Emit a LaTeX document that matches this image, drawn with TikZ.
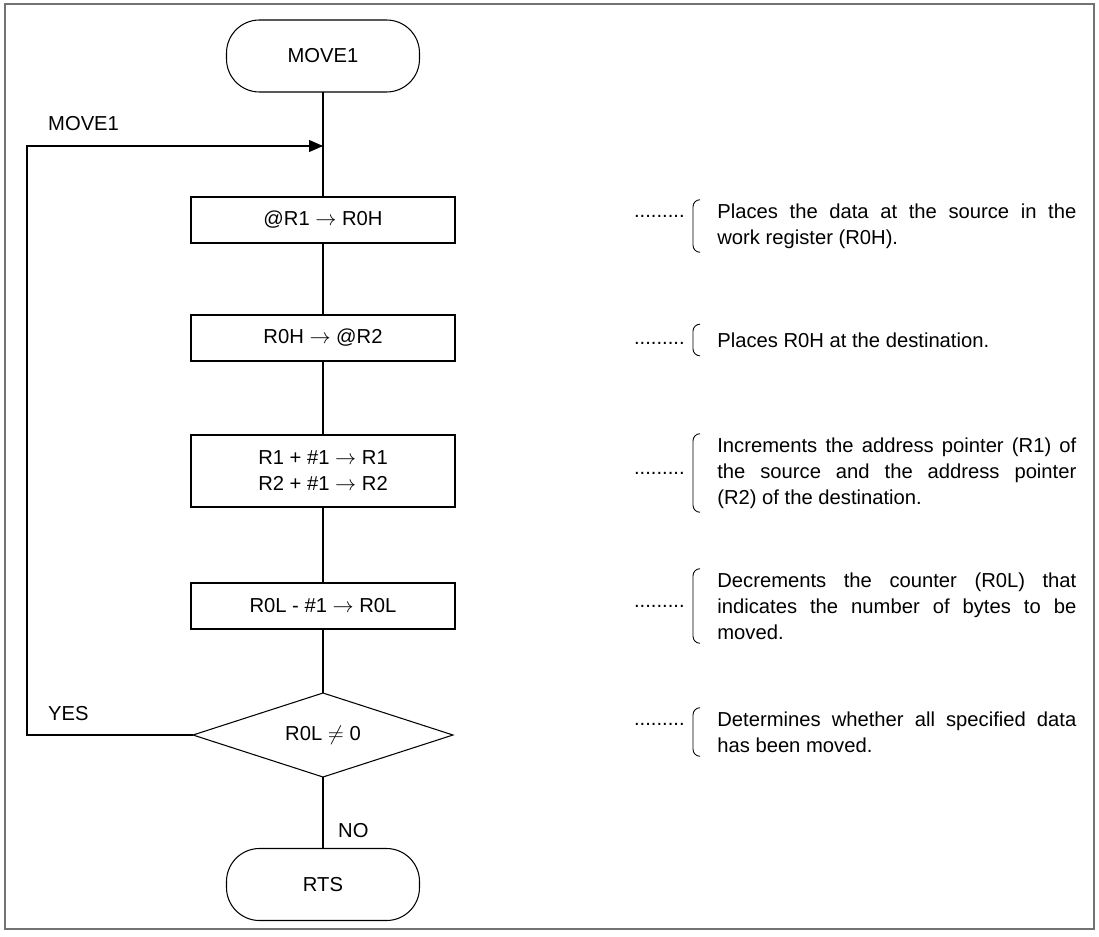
\documentclass[tikz,border=0pt]{standalone}
\usepackage{fontspec}
\setmainfont{Liberation Sans}
\usetikzlibrary{arrows.meta,shapes.geometric,positioning}

\begin{document}
\begin{tikzpicture}[font=\fontsize{11.5}{14.8}\selectfont,
    >={Triangle[length=0.28cm,width=0.24cm]},x=1cm,y=1cm]
    \tikzset{
        terminal/.style={
            draw,rounded corners=0.66cm,
            minimum width=3.86cm,minimum height=1.44cm,
            inner sep=2pt,outer sep=0pt,align=center,line width=0.6pt
        },
        process/.style={
            draw,minimum width=5.28cm,minimum height=0.92cm,
            inner sep=2pt,outer sep=0pt,align=center,line width=0.6pt
        },
        decision/.style={
            draw,diamond,shape aspect=3.1,
            minimum width=5.20cm,minimum height=1.68cm,
            inner sep=1pt,outer sep=0pt,line width=0.6pt
        },
        note/.style={
            text width=7.18cm,minimum height=0.62cm,align=justify,
            inner xsep=0pt,inner ysep=2pt,anchor=west
        },
        leader/.style={inner sep=0pt,anchor=east},
        paren/.style={rounded corners=0.14cm,line width=0.5pt},
        flow/.style={line width=0.6pt},
        outline/.style={draw=black!55,line width=1.2pt}
    }

    \useasboundingbox (0,0) rectangle (21.98,18.72);
    \draw[outline] (0.10,18.64) rectangle (21.88,0.14);

    \node[terminal] (move1) at (6.46,17.60) {MOVE1};
    \node[process] (step1) at (6.46,14.32) {@R1 $\rightarrow$ R0H};
    \node[process] (step2) at (6.46,11.96) {R0H $\rightarrow$ @R2};
    \node[process,minimum height=1.44cm] (step3) at (6.46,9.30)
        {R1 + \#1 $\rightarrow$ R1\\R2 + \#1 $\rightarrow$ R2};
    \node[process] (step4) at (6.46,6.60) {R0L - \#1 $\rightarrow$ R0L};
    \node[decision] (test) at (6.46,4.02) {R0L $\neq$ 0};
    \node[terminal] (rts) at (6.46,1.03) {RTS};

    \coordinate (join) at (6.46,15.80);
    \coordinate (back) at (0.54,15.80);

    \node[anchor=west] (loop-label) at (0.84,16.24) {MOVE1};
    \node[anchor=west] (yes-label) at (0.84,4.44) {YES};
    \node[anchor=west] (no-label) at (6.64,2.10) {NO};

    \draw[flow] (move1.south) -- (step1.north);
    \draw[flow] (step1.south) -- (step2.north);
    \draw[flow] (step2.south) -- (step3.north);
    \draw[flow] (step3.south) -- (step4.north);
    \draw[flow] (step4.south) -- (test.north);
    \draw[flow] (test.south) -- (rts.north);
    \draw[flow,->] (test.west) -| (back) -- (join);

    \node[note] (n1) at (14.34,14.20)
        {Places the data at the source in the\linebreak
         work register (R0H).};
    \node[note] (n2) at (14.34,11.92)
        {Places R0H at the destination.};
    \node[note] (n3) at (14.34,9.26)
        {Increments the address pointer (R1) of\linebreak
         the source and the address pointer\linebreak
         (R2) of the destination.};
    \node[note] (n4) at (14.34,6.60)
        {Decrements the counter (R0L) that\linebreak
         indicates the number of bytes to be\linebreak
         moved.};
    \node[note] (n5) at (14.34,4.08)
        {Determines whether all specified data\linebreak
         has been moved.};

    \draw[paren] ([xshift=-0.34cm]n1.north west) -| ([xshift=-0.48cm]n1.south west)
        -- ([xshift=-0.34cm]n1.south west);
    \draw[paren] ([xshift=-0.34cm]n2.north west) -| ([xshift=-0.48cm]n2.south west)
        -- ([xshift=-0.34cm]n2.south west);
    \draw[paren] ([xshift=-0.34cm]n3.north west) -| ([xshift=-0.48cm]n3.south west)
        -- ([xshift=-0.34cm]n3.south west);
    \draw[paren] ([xshift=-0.34cm]n4.north west) -| ([xshift=-0.48cm]n4.south west)
        -- ([xshift=-0.34cm]n4.south west);
    \draw[paren] ([xshift=-0.34cm]n5.north west) -| ([xshift=-0.48cm]n5.south west)
        -- ([xshift=-0.34cm]n5.south west);

    \node[leader] (n1-dots) at ([xshift=-0.64cm,yshift=0.20cm]n1.west) {.........};
    \node[leader] (n2-dots) at ([xshift=-0.64cm,yshift=-0.06cm]n2.west) {.........};
    \node[leader] (n3-dots) at ([xshift=-0.64cm]n3.west) {.........};
    \node[leader] (n4-dots) at ([xshift=-0.64cm]n4.west) {.........};
    \node[leader] (n5-dots) at ([xshift=-0.64cm,yshift=0.16cm]n5.west) {.........};
\end{tikzpicture}
\end{document}
